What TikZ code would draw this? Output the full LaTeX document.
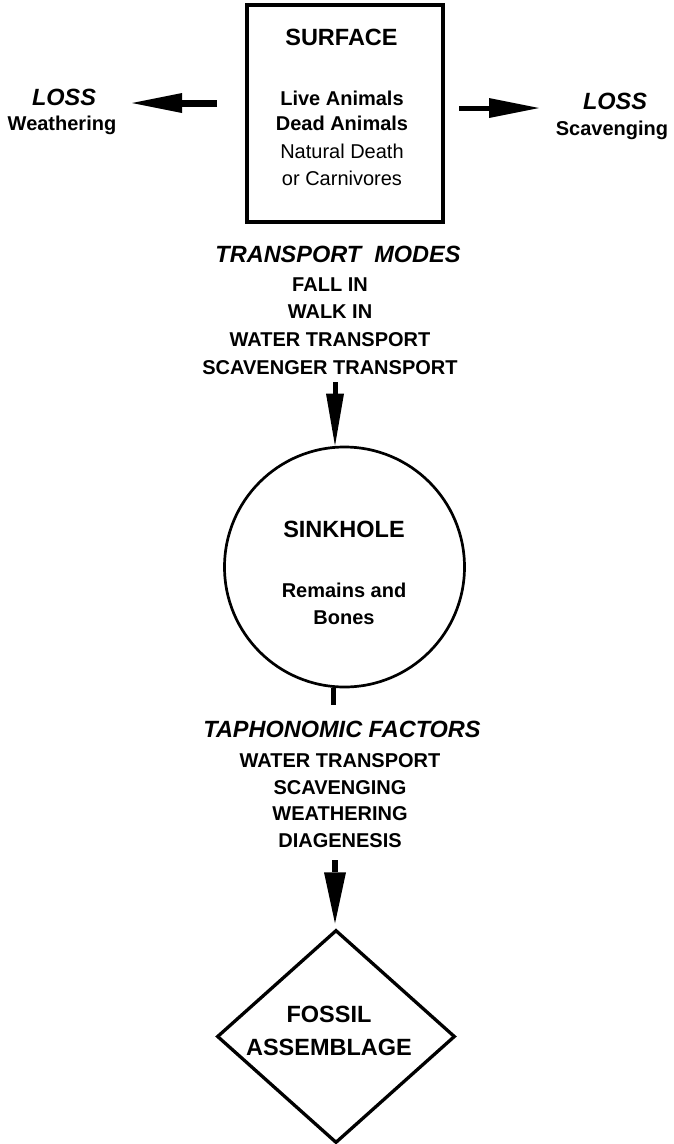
\documentclass[tikz,border=0pt]{standalone}
\usepackage{fontspec}
\setmainfont{Liberation Sans}
\usetikzlibrary{arrows.meta,shapes.geometric}

\begin{document}
\begin{tikzpicture}[x=1pt,y=-1pt,
  txt/.style={inner sep=0pt, anchor=base},
  head/.style={txt, font=\fontsize{23.5}{28}\selectfont\bfseries},
  headit/.style={txt, font=\fontsize{23.5}{28}\selectfont\bfseries\itshape},
  bodyb/.style={txt, font=\fontsize{20}{24}\selectfont\bfseries},
  bodyr/.style={txt, font=\fontsize{20}{24}\selectfont},
  flow/.style args={#1/#2/#3}{line width=#1,
    -{Triangle[length=#2, width=#3, line width=0pt]}},
  tick/.style={line width=5pt}
]
\useasboundingbox (0,0) rectangle (674,1144);

% surface box and its contents
\node[draw, line width=4pt, minimum width=196pt, minimum height=217pt,
      inner sep=0pt] (surface) at (345,113.5) {};
\node[head]  (surftitle) at (341.5,45)  {SURFACE};
\node[bodyb] (live)      at (342,105)   {Live Animals};
\node[bodyb] (dead)      at (342,130)   {Dead Animals};
\node[bodyr] (natural)   at (342,158)   {Natural Death};
\node[bodyr] (carn)      at (342,185)   {or Carnivores};

% losses on either side
\node[headit] (lossL)  at (64,105)  {LOSS};
\node[bodyb]  (weath)  at (62,130)  {Weathering};
\node[headit] (lossR)  at (615,109) {LOSS};
\node[bodyb]  (scav)   at (612,135) {Scavenging};

\coordinate (tipL) at (132,103);
\coordinate (tipR) at (539,108);
\draw[flow=7pt/50pt/20pt, shorten <=28pt] (surface.west |- tipL) -- (tipL);
\draw[flow=5pt/50pt/20pt, shorten <=14pt] (surface.east |- tipR) -- (tipR);

% transport modes
\node[headit] (modes) at (338,262) {TRANSPORT\ \ MODES};
\node[bodyb] (fall)   at (330,291) {FALL IN};
\node[bodyb] (walk)   at (330,318) {WALK IN};
\node[bodyb] (water)  at (330,346) {WATER TRANSPORT};
\node[bodyb] (scavtr) at (330,374) {SCAVENGER TRANSPORT};

% sinkhole
\node[circle, draw, line width=2.7pt, minimum size=240pt, inner sep=0pt]
      (sink) at (344.5,567) {};
\node[head]  (sinktitle) at (344,537) {SINKHOLE};
\node[bodyb] (remains)   at (344,597) {Remains and};
\node[bodyb] (bones)     at (344,624) {Bones};

\coordinate (tmtail) at (335,382);
\draw[flow=5pt/52pt/18pt] (tmtail) -- (tmtail |- sink.north);

\coordinate (tickend) at (333,705);
\draw[tick] (tickend |- sink.south) -- (tickend);

% taphonomic factors
\node[headit] (taph)  at (342,737) {TAPHONOMIC FACTORS};
\node[bodyb] (twater) at (340,767) {WATER TRANSPORT};
\node[bodyb] (tscav)  at (340,794) {SCAVENGING};
\node[bodyb] (tweath) at (340,820) {WEATHERING};
\node[bodyb] (tdiag)  at (340,847) {DIAGENESIS};

% fossil assemblage
\node[diamond, draw, line width=3.3pt, minimum width=238pt, minimum height=213pt,
      inner sep=0pt] (fossil) at (336,1036.5) {};
\node[head] (fos)   at (329,1022) {FOSSIL};
\node[head] (assem) at (329,1055) {ASSEMBLAGE};

\coordinate (tftail) at (335,860);
\draw[flow=6pt/51pt/22pt, shorten >=5pt] (tftail) -- (tftail |- fossil.north);
\end{tikzpicture}
\end{document}
